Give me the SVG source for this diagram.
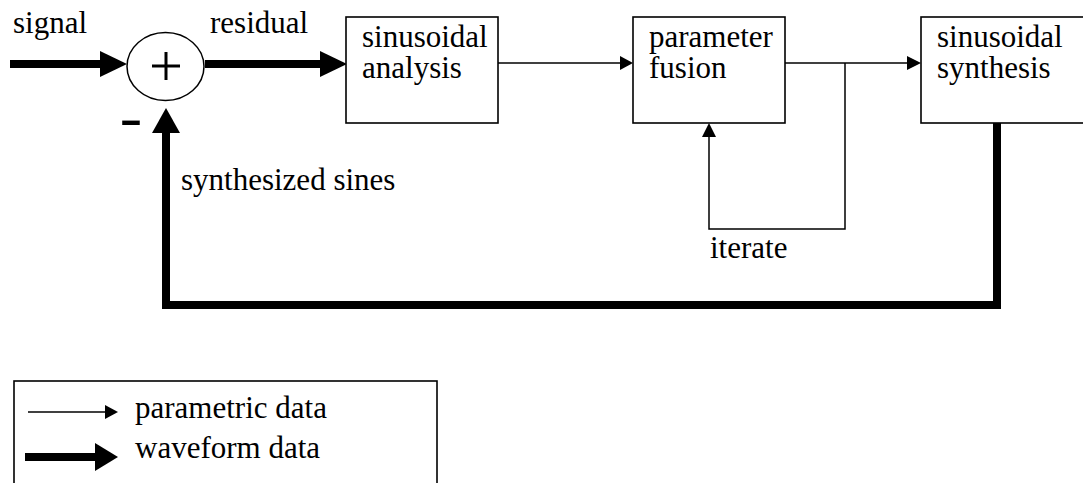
<svg xmlns="http://www.w3.org/2000/svg" width="1083" height="483" viewBox="0 0 1083 483">
<style>
text{font-family:"Liberation Serif","Times New Roman",serif;font-size:31px;fill:#000}
.box{fill:#fff;stroke:#000;stroke-width:1.6}
.thin{fill:none;stroke:#000;stroke-width:1.5}
.thick{fill:none;stroke:#000;stroke-width:8}
.head{fill:#000}
</style>
<rect width="1083" height="483" fill="#fff"/>
<g id="connectors">
  <line class="thick" x1="10" y1="64" x2="102" y2="64"/>
  <polygon class="head" points="100,51 127,64 100,77"/>
  <line class="thick" x1="205" y1="64" x2="322" y2="64"/>
  <polygon class="head" points="320,51 347,64 320,77"/>
  <line class="thin" x1="497" y1="63" x2="621" y2="63"/>
  <polygon class="head" points="620,56 633,63 620,70"/>
  <line class="thin" x1="785" y1="63" x2="909" y2="63"/>
  <polygon class="head" points="907,56 921,63 907,70"/>
  <polyline class="thin" points="845,63 845,229 709,229 709,136"/>
  <polygon class="head" points="702,137 709,123 716,137"/>
  <polyline class="thick" points="997,121 997,305 166,305 166,131"/>
  <polygon class="head" points="152,133 166,108 180,133"/>
</g>
<g id="sum">
  <ellipse cx="165.5" cy="66.5" rx="38.5" ry="34" fill="#fff" stroke="#000" stroke-width="1.5"/>
  <line x1="152" y1="66" x2="180" y2="66" stroke="#000" stroke-width="3"/>
  <line x1="166" y1="52" x2="166" y2="80" stroke="#000" stroke-width="3"/>
</g>
<g id="analysis">
  <rect class="box" x="346" y="17" width="152" height="106"/>
  <text x="362" y="47">sinusoidal</text>
  <text x="362" y="78">analysis</text>
</g>
<g id="fusion">
  <rect class="box" x="633" y="17" width="152" height="106"/>
  <text x="649" y="47">parameter</text>
  <text x="649" y="78">fusion</text>
</g>
<g id="synthesis">
  <rect class="box" x="921" y="17" width="180" height="106"/>
  <text x="937" y="47">sinusoidal</text>
  <text x="937" y="78">synthesis</text>
</g>
<g id="labels">
  <text x="13" y="33">signal</text>
  <text x="210" y="33">residual</text>
  <text x="181" y="190">synthesized sines</text>
  <text x="710" y="258">iterate</text>
  <text transform="translate(119.5,131.5) scale(1.33,0.7)" style="font-family:'Liberation Sans',Arial,sans-serif;font-weight:bold;font-size:52px">-</text>
</g>
<g id="legend">
  <rect class="box" x="14" y="381" width="423" height="120"/>
  <line class="thin" x1="28" y1="412" x2="107" y2="412"/>
  <polygon class="head" points="105,405 118,412 105,419"/>
  <text x="135" y="418">parametric data</text>
  <line class="thick" x1="25" y1="457" x2="97" y2="457"/>
  <polygon class="head" points="95,443 118,457 95,471"/>
  <text x="135" y="458">waveform data</text>
</g>
</svg>
